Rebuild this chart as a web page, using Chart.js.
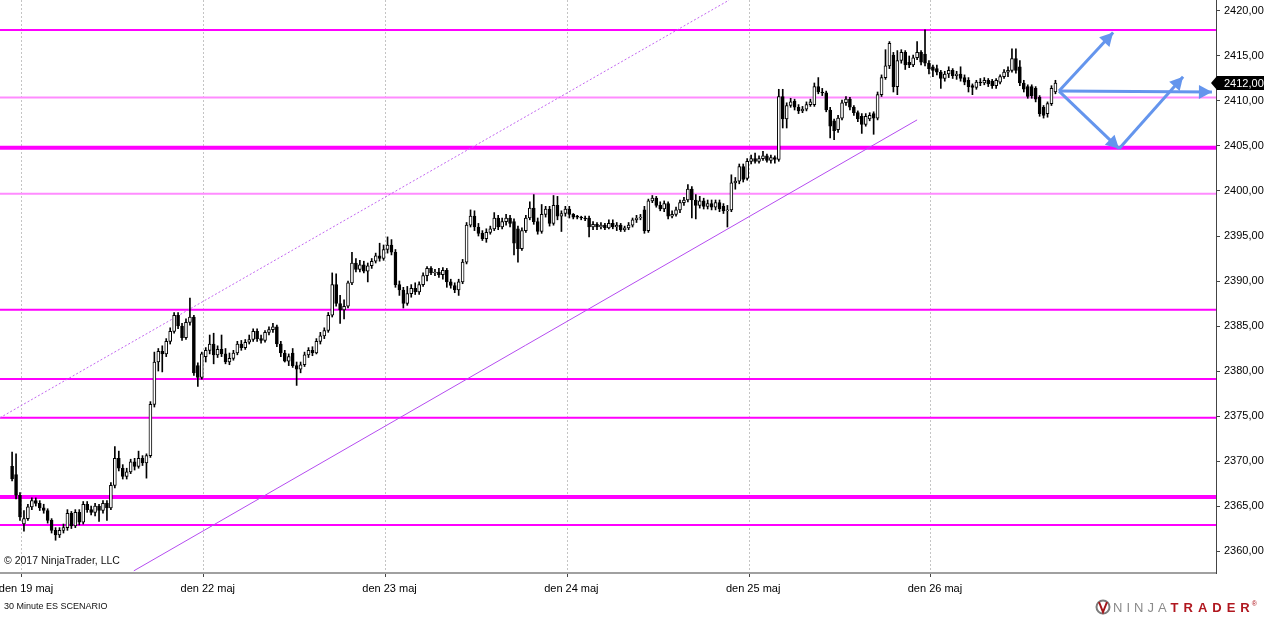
<!DOCTYPE html>
<html>
<head>
<meta charset="utf-8">
<script src="https://cdn.jsdelivr.net/npm/chart.js@4.4.1/dist/chart.umd.min.js"></script>
<style>
  html, body { margin: 0; padding: 0; background: #fff; }
  #wrap { position: relative; width: 1264px; height: 617px; }
</style>
</head>
<body>
<div id="wrap"><canvas id="chart"></canvas></div>
<script>
// 30 minute ES bars, first bar sits 3 bars before the 19 maj session
var firstBar = -3;

var opens = [
  2369.4, 2368.5, 2366.2,
  2363.0, 2363.6, 2364.9, 2365.6, 2365.3, 2364.8, 2364.5, 2363.4, 2362.3, 2361.8, 2362.3, 2362.6, 2364.2, 2362.8, 2364.3, 2363.2, 2365.2, 2364.6, 2364.3, 2365.0, 2364.5, 2365.3, 2364.8, 2367.3, 2370.3, 2369.2, 2368.3, 2368.8, 2369.9, 2369.4, 2370.3, 2369.8, 2370.6, 2376.3, 2381.0, 2382.2, 2381.9, 2383.3, 2384.4, 2386.2, 2385.0, 2383.7, 2385.4, 2386.0, 2380.6, 2379.3,
  2381.6, 2382.3, 2383.0, 2381.8, 2382.4, 2381.9, 2381.0, 2381.4, 2382.0, 2383.0, 2382.6, 2383.2, 2383.5, 2384.4, 2383.6, 2383.4, 2384.3, 2384.6, 2384.9, 2383.0, 2382.0, 2381.1, 2382.0, 2380.6, 2380.2, 2380.7, 2381.8, 2382.3, 2382.0, 2383.3, 2383.9, 2384.5, 2386.2, 2389.6, 2387.5, 2386.8, 2387.2, 2389.8, 2392.0, 2391.3, 2391.8, 2391.1, 2391.7, 2392.2, 2392.8, 2392.5,
  2393.5, 2394.0, 2393.2, 2389.6, 2389.0, 2387.5, 2388.6, 2389.2, 2388.8, 2389.6, 2390.6, 2391.4, 2390.9, 2391.0, 2390.7, 2391.2, 2389.9, 2389.5, 2389.0, 2389.9, 2392.1, 2396.2, 2397.2, 2396.0, 2395.3, 2394.7, 2395.4, 2395.8, 2397.0, 2396.0, 2396.6, 2397.0, 2396.6, 2395.8, 2393.6, 2395.6, 2397.0, 2398.1, 2396.6, 2395.5, 2397.4, 2398.0, 2396.4, 2398.4, 2397.2, 2397.5,
  2398.0, 2397.4, 2397.2, 2397.1, 2397.0, 2397.0, 2396.0, 2396.3, 2396.0, 2396.2, 2395.9, 2396.4, 2396.0, 2396.2, 2395.7, 2395.9, 2396.2, 2396.8, 2397.0, 2397.9, 2395.6, 2398.9, 2399.2, 2398.4, 2398.0, 2398.6, 2397.2, 2397.4, 2397.9, 2398.7, 2399.0, 2400.2, 2399.0, 2398.4, 2398.9, 2398.3, 2398.6, 2398.2, 2398.7, 2398.3, 2397.8, 2397.9, 2400.9, 2401.1, 2402.7, 2401.4,
  2403.3, 2403.6, 2403.3, 2403.6, 2403.9, 2403.4, 2403.7, 2403.5, 2410.5, 2408.0, 2409.5, 2410.0, 2409.3, 2408.9, 2409.1, 2409.6, 2409.6, 2411.6, 2411.0, 2410.9, 2409.0, 2407.8, 2406.8, 2408.1, 2409.8, 2410.2, 2409.3, 2408.7, 2408.3, 2407.4, 2408.0, 2408.6, 2408.1, 2410.7, 2412.6, 2413.9, 2415.1, 2411.6, 2414.5, 2415.4, 2414.3, 2414.0, 2414.8, 2415.4, 2415.2, 2414.2,
  2413.8, 2413.6, 2413.2, 2412.5, 2413.0, 2413.4, 2412.8, 2413.0, 2412.6, 2412.3, 2411.7, 2411.5, 2412.1, 2412.0, 2412.3, 2412.2, 2411.7, 2412.1, 2412.7, 2413.2, 2413.4, 2414.7, 2413.8, 2412.0, 2411.6, 2411.6, 2411.4, 2410.4, 2409.3, 2408.6, 2409.7, 2411.0
];

var highs = [
  2371.0, 2370.8, 2366.5,
  2364.5, 2365.2, 2365.9, 2365.9, 2365.6, 2365.2, 2364.7, 2363.6, 2362.6, 2362.6, 2363.0, 2364.6, 2364.4, 2364.6, 2364.6, 2365.5, 2365.5, 2365.0, 2365.3, 2365.2, 2365.6, 2365.6, 2367.6, 2371.6, 2371.1, 2369.6, 2369.2, 2370.2, 2370.3, 2371.1, 2370.6, 2370.8, 2376.6, 2382.1, 2382.5, 2382.8, 2383.6, 2384.8, 2386.5, 2386.5, 2385.3, 2385.8, 2388.1, 2386.2, 2380.9, 2382.1,
  2382.6, 2384.0, 2384.2, 2382.8, 2384.0, 2382.5, 2382.0, 2382.3, 2383.3, 2383.4, 2383.5, 2384.0, 2384.7, 2384.7, 2384.0, 2384.5, 2384.9, 2385.3, 2385.1, 2383.3, 2382.3, 2381.9, 2382.5, 2381.0, 2381.0, 2382.1, 2382.6, 2382.7, 2383.6, 2384.3, 2384.8, 2386.5, 2390.9, 2390.8, 2388.4, 2387.9, 2390.0, 2393.2, 2392.5, 2392.3, 2392.2, 2392.0, 2392.5, 2393.1, 2394.2, 2394.0,
  2394.9, 2394.6, 2393.5, 2390.0, 2389.3, 2389.4, 2389.6, 2389.8, 2389.9, 2390.9, 2391.6, 2391.6, 2391.3, 2391.4, 2391.5, 2391.4, 2390.2, 2389.8, 2390.2, 2392.4, 2396.5, 2397.9, 2397.8, 2396.4, 2395.6, 2395.8, 2396.1, 2397.6, 2397.3, 2397.0, 2397.4, 2397.3, 2396.9, 2396.1, 2395.9, 2397.3, 2398.8, 2399.6, 2397.0, 2398.5, 2398.3, 2398.3, 2399.5, 2399.4, 2397.8, 2398.3,
  2398.3, 2397.5, 2397.3, 2397.2, 2397.2, 2397.2, 2396.6, 2396.5, 2396.5, 2396.4, 2396.8, 2396.8, 2396.5, 2396.4, 2396.1, 2396.5, 2397.0, 2397.3, 2397.4, 2398.3, 2399.1, 2399.5, 2399.4, 2398.8, 2398.9, 2398.8, 2397.8, 2398.2, 2399.0, 2399.3, 2400.7, 2400.5, 2399.6, 2399.4, 2399.2, 2399.0, 2399.0, 2399.0, 2399.0, 2398.6, 2398.4, 2401.8, 2401.5, 2403.0, 2403.0, 2403.6,
  2404.0, 2404.2, 2403.9, 2404.4, 2404.1, 2404.0, 2403.9, 2411.3, 2411.3, 2409.8, 2410.3, 2410.2, 2409.6, 2409.4, 2409.9, 2410.2, 2412.0, 2412.6, 2411.4, 2411.1, 2409.3, 2408.0, 2408.4, 2410.1, 2410.5, 2410.4, 2409.5, 2408.9, 2408.6, 2408.6, 2408.7, 2408.8, 2411.0, 2412.9, 2415.7, 2416.6, 2415.4, 2415.6, 2415.7, 2415.6, 2415.0, 2415.1, 2416.6, 2415.6, 2417.9, 2414.5,
  2414.0, 2414.0, 2413.4, 2413.3, 2413.8, 2413.6, 2413.3, 2413.8, 2412.9, 2412.6, 2411.9, 2412.3, 2412.5, 2412.6, 2412.5, 2412.4, 2412.5, 2412.9, 2413.5, 2413.8, 2415.8, 2415.8, 2414.5, 2412.3, 2411.8, 2411.8, 2411.6, 2410.6, 2409.5, 2409.9, 2411.7, 2412.3
];

var lows = [
  2367.8, 2365.8, 2363.4,
  2362.2, 2363.4, 2364.6, 2365.0, 2364.5, 2364.2, 2363.1, 2362.0, 2361.2, 2361.5, 2362.0, 2362.3, 2362.5, 2362.6, 2362.9, 2363.0, 2364.3, 2364.0, 2363.9, 2363.3, 2364.2, 2363.4, 2364.6, 2367.0, 2368.9, 2368.0, 2368.0, 2368.6, 2369.0, 2369.2, 2369.5, 2368.1, 2370.4, 2376.0, 2380.0, 2379.9, 2381.6, 2383.0, 2384.2, 2384.7, 2383.4, 2383.5, 2385.1, 2379.5, 2378.3, 2379.1,
  2381.0, 2381.9, 2380.8, 2381.5, 2381.6, 2380.8, 2380.7, 2381.2, 2381.8, 2382.3, 2382.4, 2383.0, 2383.3, 2383.3, 2383.1, 2383.2, 2384.0, 2384.3, 2382.7, 2381.6, 2381.0, 2380.6, 2380.4, 2378.4, 2379.8, 2380.5, 2381.5, 2381.7, 2381.9, 2383.0, 2383.6, 2384.3, 2386.0, 2387.2, 2385.3, 2385.8, 2387.0, 2389.6, 2391.0, 2391.0, 2390.9, 2389.9, 2391.4, 2392.0, 2392.2, 2392.3,
  2393.1, 2392.9, 2389.3, 2388.4, 2387.0, 2387.3, 2388.2, 2388.5, 2388.5, 2389.4, 2390.0, 2390.7, 2390.6, 2390.4, 2390.2, 2389.3, 2389.2, 2388.7, 2388.4, 2389.7, 2391.9, 2396.0, 2395.6, 2395.0, 2394.5, 2394.3, 2395.2, 2395.6, 2395.7, 2395.8, 2396.2, 2396.0, 2392.9, 2392.1, 2393.4, 2395.4, 2396.8, 2396.3, 2395.2, 2395.3, 2397.1, 2396.1, 2396.2, 2396.8, 2395.5, 2397.2,
  2397.0, 2396.9, 2396.9, 2396.8, 2396.7, 2394.9, 2395.7, 2395.7, 2395.8, 2395.7, 2395.8, 2395.8, 2395.6, 2395.5, 2395.5, 2395.7, 2396.0, 2396.5, 2396.8, 2395.3, 2395.4, 2398.7, 2398.2, 2397.8, 2397.7, 2396.9, 2397.0, 2397.2, 2397.6, 2398.4, 2398.8, 2397.0, 2396.9, 2398.1, 2398.0, 2398.0, 2397.9, 2397.9, 2397.7, 2397.5, 2396.0, 2397.7, 2400.2, 2400.8, 2401.0, 2401.2,
  2403.0, 2403.1, 2403.1, 2403.4, 2403.2, 2403.1, 2403.1, 2403.3, 2407.0, 2407.0, 2409.3, 2409.0, 2408.6, 2408.7, 2408.9, 2409.4, 2409.4, 2410.8, 2410.6, 2408.8, 2405.9, 2405.7, 2406.5, 2407.9, 2409.5, 2409.0, 2408.4, 2407.7, 2406.4, 2407.2, 2407.8, 2406.3, 2407.9, 2410.5, 2412.4, 2413.6, 2411.0, 2410.7, 2414.2, 2413.5, 2413.7, 2413.8, 2414.6, 2414.0, 2413.9, 2413.0,
  2412.7, 2412.9, 2411.4, 2412.2, 2412.6, 2412.5, 2412.4, 2412.2, 2411.8, 2411.0, 2410.7, 2411.3, 2411.7, 2411.8, 2411.6, 2411.4, 2411.4, 2411.9, 2412.5, 2412.7, 2413.2, 2413.1, 2411.7, 2411.0, 2410.3, 2410.3, 2409.9, 2408.3, 2408.1, 2408.2, 2409.5, 2410.8
];

var closes = [
  2368.0, 2366.2, 2363.8,
  2363.6, 2364.9, 2365.6, 2365.3, 2364.8, 2364.5, 2363.4, 2362.3, 2361.8, 2362.3, 2362.6, 2364.2, 2362.8, 2364.3, 2363.2, 2365.2, 2364.6, 2364.3, 2365.0, 2364.5, 2365.3, 2364.8, 2367.3, 2370.3, 2369.2, 2368.3, 2368.8, 2369.9, 2369.4, 2370.3, 2369.8, 2370.6, 2376.3, 2381.0, 2382.2, 2381.9, 2383.3, 2384.4, 2386.2, 2385.0, 2383.7, 2385.4, 2386.0, 2379.8, 2379.3, 2381.9,
  2382.3, 2383.0, 2381.8, 2382.4, 2381.9, 2381.0, 2381.4, 2382.0, 2383.0, 2382.6, 2383.2, 2383.5, 2384.4, 2383.6, 2383.4, 2384.3, 2384.6, 2384.9, 2383.0, 2382.0, 2381.1, 2381.6, 2380.6, 2380.2, 2380.7, 2381.8, 2382.3, 2382.0, 2383.3, 2383.9, 2384.5, 2386.2, 2389.6, 2387.5, 2386.8, 2387.2, 2389.8, 2392.0, 2391.3, 2391.8, 2391.1, 2391.7, 2392.2, 2392.8, 2392.5, 2393.5,
  2394.0, 2393.2, 2389.6, 2389.0, 2387.5, 2388.6, 2389.2, 2388.8, 2389.6, 2390.6, 2391.4, 2390.9, 2391.0, 2390.7, 2391.2, 2389.9, 2389.5, 2389.0, 2389.9, 2392.1, 2396.2, 2397.2, 2396.0, 2395.3, 2394.7, 2395.4, 2395.8, 2397.0, 2396.0, 2396.6, 2397.0, 2396.4, 2394.2, 2393.6, 2395.6, 2397.0, 2398.1, 2396.6, 2395.5, 2397.4, 2398.0, 2396.4, 2398.4, 2397.2, 2397.5, 2398.0,
  2397.4, 2397.1, 2397.1, 2397.0, 2396.9, 2396.0, 2396.3, 2396.0, 2396.2, 2395.9, 2396.4, 2396.0, 2396.2, 2395.7, 2395.9, 2396.2, 2396.8, 2397.0, 2397.1, 2395.6, 2398.9, 2399.2, 2398.4, 2398.0, 2398.6, 2397.2, 2397.4, 2397.9, 2398.7, 2399.0, 2400.2, 2399.0, 2398.4, 2398.9, 2398.3, 2398.6, 2398.2, 2398.7, 2398.0, 2397.8, 2397.9, 2400.9, 2401.1, 2402.7, 2401.3, 2403.3,
  2403.6, 2403.3, 2403.6, 2403.9, 2403.4, 2403.7, 2403.5, 2410.5, 2408.0, 2409.5, 2409.9, 2409.3, 2408.9, 2409.1, 2409.6, 2409.9, 2411.6, 2411.0, 2410.9, 2409.0, 2407.2, 2406.7, 2408.1, 2409.8, 2410.2, 2409.3, 2408.7, 2408.0, 2407.4, 2408.3, 2408.4, 2408.1, 2410.7, 2412.6, 2413.9, 2416.4, 2411.6, 2414.5, 2415.4, 2414.0, 2414.0, 2414.8, 2415.4, 2414.3, 2414.2, 2413.6,
  2413.4, 2413.2, 2412.5, 2413.0, 2413.4, 2412.8, 2413.0, 2412.5, 2412.1, 2411.6, 2411.5, 2412.1, 2412.0, 2412.3, 2411.9, 2411.7, 2412.3, 2412.7, 2413.2, 2413.4, 2414.7, 2413.4, 2412.0, 2411.3, 2410.5, 2410.6, 2410.2, 2408.6, 2408.4, 2409.7, 2411.4, 2412.0
];

// session starts (bar index) and their labels
var dayTicks = [-0.5, 45.5, 91.5, 137.5, 183.5, 229.5];
var dayLabels = ['den 19 maj', 'den 22 maj', 'den 23 maj', 'den 24 maj', 'den 25 maj', 'den 26 maj'];
var priceTicks = [2360, 2365, 2370, 2375, 2380, 2385, 2390, 2395, 2400, 2405, 2410, 2415, 2420];

// drawing objects
var levels = [2417.9, 2410.4, 2404.8, 2399.7, 2386.8, 2379.1, 2374.8, 2366.0, 2362.9];
var levelColors = ['#ff00ff', '#ff8cff', '#ff00ff', '#ff8cff', '#ff00ff', '#ff00ff', '#ff00ff', '#ff00ff', '#ff00ff'];
var levelWidths = [2, 2, 4, 2, 2, 2, 2, 4, 2];
var channelUpper = [[-6.1, 2374.8], [178.4, 2421.2]];
var channelLower = [[27.8, 2357.8], [226.0, 2407.9]];
var arrowUp = [[261.9, 2411.1], [275.6, 2417.6]];
var arrowFlat = [[261.9, 2411.1], [300.6, 2411.0]];
var arrowDown = [[261.9, 2411.1], [277.1, 2404.7]];
var arrowBack = [[277.1, 2404.7], [293.3, 2412.7]];

var xMin = -6.06, xMax = 301.63;
var yMin = 2357.56, yMax = 2421.22;
var axisFont = { family: '"Liberation Sans", Arial, sans-serif', size: 11 };

var wicks = [], bodies = [];
for (var i = 0; i < opens.length; i++) {
    wicks.push({ x: firstBar + i, y: [lows[i], highs[i]] });
    bodies.push({ x: firstBar + i, y: [opens[i], closes[i]] });
}

function pts(list) {
    return list.map(function (p) { return { x: p[0], y: p[1] }; });
}

var datasets = [];
levels.forEach(function (p, i) {
    datasets.push({
        type: 'line', data: [{ x: xMin, y: p }, { x: xMax, y: p }],
        borderColor: levelColors[i], borderWidth: levelWidths[i],
        pointRadius: 0, order: 5
    });
});
datasets.push({ type: 'line', data: pts(channelUpper), borderColor: '#c266f0', borderWidth: 1, borderDash: [2, 2], pointRadius: 0, order: 4 });
datasets.push({ type: 'line', data: pts(channelLower), borderColor: '#b54cf0', borderWidth: 1, pointRadius: 0, order: 4 });
datasets.push({
    type: 'bar', data: wicks, backgroundColor: '#000', borderWidth: 0,
    barThickness: 1, grouped: false, order: 2
});
datasets.push({
    type: 'bar', data: bodies,
    backgroundColor: function (c) { return c.raw && c.raw.y[1] >= c.raw.y[0] ? '#ffffff' : '#000000'; },
    borderColor: '#000', borderWidth: 1, borderSkipped: false,
    barThickness: 3, grouped: false, order: 1
});
[arrowUp, arrowFlat, arrowDown, arrowBack].forEach(function (a) {
    datasets.push({
        type: 'line', data: pts(a), borderColor: '#6495ed', borderWidth: 3,
        pointRadius: 0, order: 0, arrowHead: true
    });
});

var overlay = {
    id: 'overlay',
    afterDatasetsDraw: function (chart) {
        var ctx = chart.ctx;
        ctx.save();
        chart.data.datasets.forEach(function (ds, i) {
            if (!ds.arrowHead) return;
            var el = chart.getDatasetMeta(i).data;
            var a = el[el.length - 2], b = el[el.length - 1];
            var ang = Math.atan2(b.y - a.y, b.x - a.x);
            var L = 13, W = 7;
            var bx = b.x - L * Math.cos(ang), by = b.y - L * Math.sin(ang);
            ctx.fillStyle = '#6495ed';
            ctx.beginPath();
            ctx.moveTo(b.x, b.y);
            ctx.lineTo(bx + W * Math.sin(ang), by - W * Math.cos(ang));
            ctx.lineTo(bx - W * Math.sin(ang), by + W * Math.cos(ang));
            ctx.closePath();
            ctx.fill();
        });
        ctx.restore();
    },
    afterDraw: function (chart) {
        var ctx = chart.ctx, area = chart.chartArea;
        ctx.save();
        // last price marker
        var last = closes[closes.length - 1];
        var y = chart.scales.y.getPixelForValue(last);
        ctx.fillStyle = '#000';
        ctx.beginPath();
        ctx.moveTo(area.right - 5, y);
        ctx.lineTo(area.right + 1, y - 7);
        ctx.lineTo(chart.width, y - 7);
        ctx.lineTo(chart.width, y + 7);
        ctx.lineTo(area.right + 1, y + 7);
        ctx.closePath();
        ctx.fill();
        ctx.fillStyle = '#fff';
        ctx.font = '11px "Liberation Sans", Arial, sans-serif';
        ctx.textBaseline = 'middle';
        ctx.fillText(last.toFixed(2).replace('.', ','), area.right + 8, y + 0.5);

        // copyright and chart name
        ctx.fillStyle = '#111';
        ctx.font = '10.5px "Liberation Sans", Arial, sans-serif';
        ctx.fillText('\u00a9 2017 NinjaTrader, LLC', 4, 561);
        ctx.font = '9px "Liberation Sans", Arial, sans-serif';
        ctx.fillText('30 Minute ES SCENARIO', 4, 607);

        // logo
        ctx.strokeStyle = '#7a7a7a';
        ctx.lineWidth = 2;
        ctx.beginPath();
        ctx.arc(1103, 607, 6.5, 0, Math.PI * 2);
        ctx.stroke();
        ctx.strokeStyle = '#a3161a';
        ctx.beginPath();
        ctx.moveTo(1099, 602);
        ctx.lineTo(1103, 612);
        ctx.lineTo(1107, 602);
        ctx.stroke();
        ctx.textBaseline = 'alphabetic';
        var x = 1113;
        ctx.fillStyle = '#8a8a8a';
        ctx.font = '13px "Liberation Sans", Arial, sans-serif';
        'NINJA'.split('').forEach(function (ch) {
            ctx.fillText(ch, x, 612);
            x += ctx.measureText(ch).width + 4;
        });
        ctx.fillStyle = '#b0171f';
        ctx.font = 'bold 13px "Liberation Sans", Arial, sans-serif';
        'TRADER'.split('').forEach(function (ch) {
            ctx.fillText(ch, x, 612);
            x += ctx.measureText(ch).width + 5;
        });
        ctx.font = '7px "Liberation Sans", Arial, sans-serif';
        ctx.fillText('\u00ae', x - 3, 606);
        ctx.restore();
    }
};

new Chart(document.getElementById('chart'), {
    type: 'bar',
    data: { datasets: datasets },
    options: {
        responsive: true,
        maintainAspectRatio: false,
        animation: false,
        events: [],
        layout: { padding: 0 },
        plugins: { legend: { display: false }, tooltip: { enabled: false } },
        scales: {
            x: {
                type: 'linear', min: xMin, max: xMax, offset: false,
                afterBuildTicks: function (s) { s.ticks = dayTicks.map(function (v) { return { value: v }; }); },
                afterFit: function (s) { s.height = 44; s.paddingLeft = 0; s.paddingRight = 0; },
                ticks: {
                    callback: function (v, i) { return dayLabels[i]; },
                    autoSkip: false, maxRotation: 0, labelOffset: 4, padding: 5,
                    color: '#000', font: axisFont
                },
                grid: { offset: false, color: '#c4c4c4', lineWidth: 1, tickLength: 4, tickColor: '#444' },
                border: { color: '#a0a0a0', width: 2, dash: [2, 2] }
            },
            y: {
                type: 'linear', position: 'right', min: yMin, max: yMax,
                afterBuildTicks: function (s) { s.ticks = priceTicks.map(function (v) { return { value: v }; }); },
                afterFit: function (s) { s.width = 48; s.paddingTop = 0; s.paddingBottom = 0; },
                ticks: {
                    callback: function (v) { return v.toFixed(2).replace('.', ','); },
                    padding: 4, color: '#000', font: axisFont
                },
                grid: { drawOnChartArea: false, tickLength: 4, tickColor: '#444' },
                border: { color: '#444', width: 1 }
            }
        }
    },
    plugins: [overlay]
});
</script>
</body>
</html>
